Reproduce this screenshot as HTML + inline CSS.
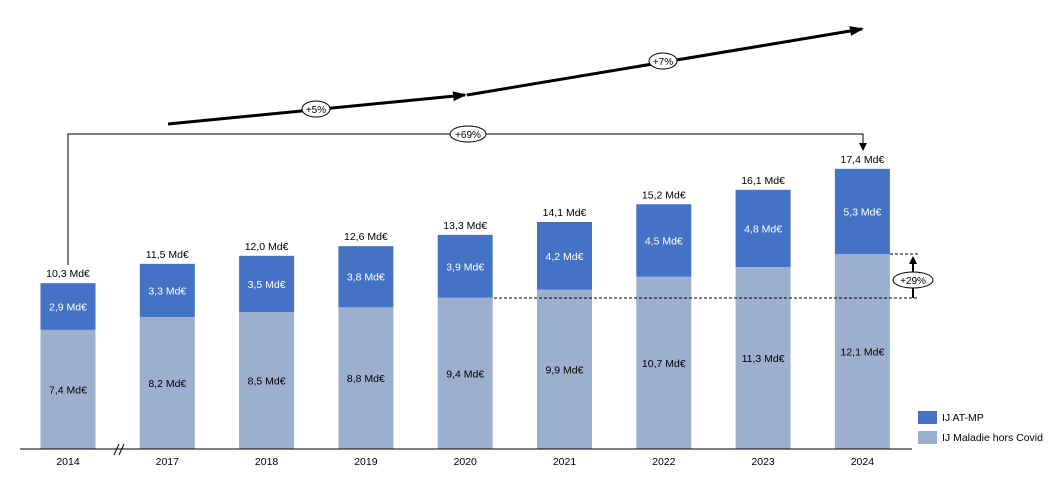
<!DOCTYPE html>
<html><head><meta charset="utf-8"><style>
body{margin:0;background:#fff;}
svg{display:block;font-family:"Liberation Sans",sans-serif;}
</style></head><body>
<svg id="chart" width="1057" height="500">
<defs>
<marker id="ah" markerWidth="8" markerHeight="8" refX="6" refY="4" orient="auto" markerUnits="userSpaceOnUse"><path d="M0,0 L8,4 L0,8 z" fill="#000"/></marker>
<marker id="ah2" markerWidth="14" markerHeight="10" refX="12" refY="5" orient="auto" markerUnits="userSpaceOnUse"><path d="M0,0 L14,5 L0,10 z" fill="#000"/></marker>
</defs>
<g id="bars"></g>
<line x1="20" y1="449" x2="912" y2="449" stroke="#000" stroke-width="1"/>
<g><line x1="114" y1="455" x2="119" y2="444" stroke="#000"/><line x1="119" y1="455" x2="124" y2="444" stroke="#000"/></g>
<line x1="168" y1="124" x2="465" y2="95" stroke="#000" stroke-width="3" marker-end="url(#ah2)"/>
<line x1="467" y1="95" x2="862" y2="29" stroke="#000" stroke-width="3" marker-end="url(#ah2)"/>
<g><ellipse cx="316" cy="109" rx="14" ry="8" fill="#fff" stroke="#000"/><text x="316" y="113" font-size="10" text-anchor="middle">+5%</text></g>
<g><ellipse cx="663" cy="61" rx="14" ry="8" fill="#fff" stroke="#000"/><text x="663" y="65" font-size="10" text-anchor="middle">+7%</text></g>
<polyline points="68,265 68,134 863,134 863,149" fill="none" stroke="#000" stroke-width="1" marker-end="url(#ah)"/>
<g><ellipse cx="468" cy="134" rx="18" ry="8" fill="#fff" stroke="#000"/><text x="468" y="138" font-size="10" text-anchor="middle">+69%</text></g>
<line x1="494" y1="298" x2="918" y2="298" stroke="#000" stroke-dasharray="3,2"/>
<line x1="890" y1="254" x2="918" y2="254" stroke="#000" stroke-dasharray="3,2"/>
<line x1="913" y1="298" x2="913" y2="258" stroke="#000" stroke-width="2" marker-end="url(#ah)"/>
<g><ellipse cx="913" cy="280" rx="20" ry="8" fill="#fff" stroke="#000"/><text x="913" y="284" font-size="10" text-anchor="middle">+29%</text></g>
<g>
<rect x="918" y="411" width="19" height="13" fill="#4472c4"/>
<text x="942" y="421" font-size="10.5">IJ AT-MP</text>
<rect x="918" y="431" width="19" height="13" fill="#9dafce"/>
<text x="942" y="441" font-size="10.5">IJ Maladie hors Covid</text>
</g>
</svg>
<script>
const years = ["2014","2017","2018","2019","2020","2021","2022","2023","2024"];
const maladie = [7.4,8.2,8.5,8.8,9.4,9.9,10.7,11.3,12.1];
const atmp = [2.9,3.3,3.5,3.8,3.9,4.2,4.5,4.8,5.3];
const totals = [10.3,11.5,12.0,12.6,13.3,14.1,15.2,16.1,17.4];
const fmt = v => v.toFixed(1).replace('.', ',') + ' Md€';
const base = 449, k = 16.1, bw = 55;
const xc = i => 68 + i * 99.3;
const y = v => base - v * k;
const g = document.getElementById('bars');
const NS = 'http://www.w3.org/2000/svg';
function mk(tag, attrs, txt){const e=document.createElementNS(NS,tag);for(const a in attrs)e.setAttribute(a,attrs[a]);if(txt)e.textContent=txt;g.appendChild(e);return e;}
years.forEach((yr,i)=>{
  const cx = xc(i);
  const r1 = mk('rect',{x:cx-bw/2,y:y(maladie[i]),width:bw,height:maladie[i]*k,fill:'#9dafce'});
  
  
  const r2 = mk('rect',{x:cx-bw/2,y:y(maladie[i]+atmp[i]),width:bw,height:atmp[i]*k,fill:'#4472c4'});
  
  
  const t1 = mk('text',{x:cx,y:(y(maladie[i])+base)/2+4,'font-size':10.5,'text-anchor':'middle',fill:'#000'},fmt(maladie[i]));
  
  
  const t2 = mk('text',{x:cx,y:(y(maladie[i])+y(maladie[i]+atmp[i]))/2+4,'font-size':10.5,'text-anchor':'middle',fill:'#fff'},fmt(atmp[i]));
  
  
  const t3 = mk('text',{x:cx,y:y(totals[i])-6,'font-size':10.5,'text-anchor':'middle',fill:'#000'},fmt(totals[i]));
  
  
  const t4 = mk('text',{x:cx,y:465,'font-size':10.5,'text-anchor':'middle',fill:'#000'},yr);
  
  
});
</script>
</body></html>
